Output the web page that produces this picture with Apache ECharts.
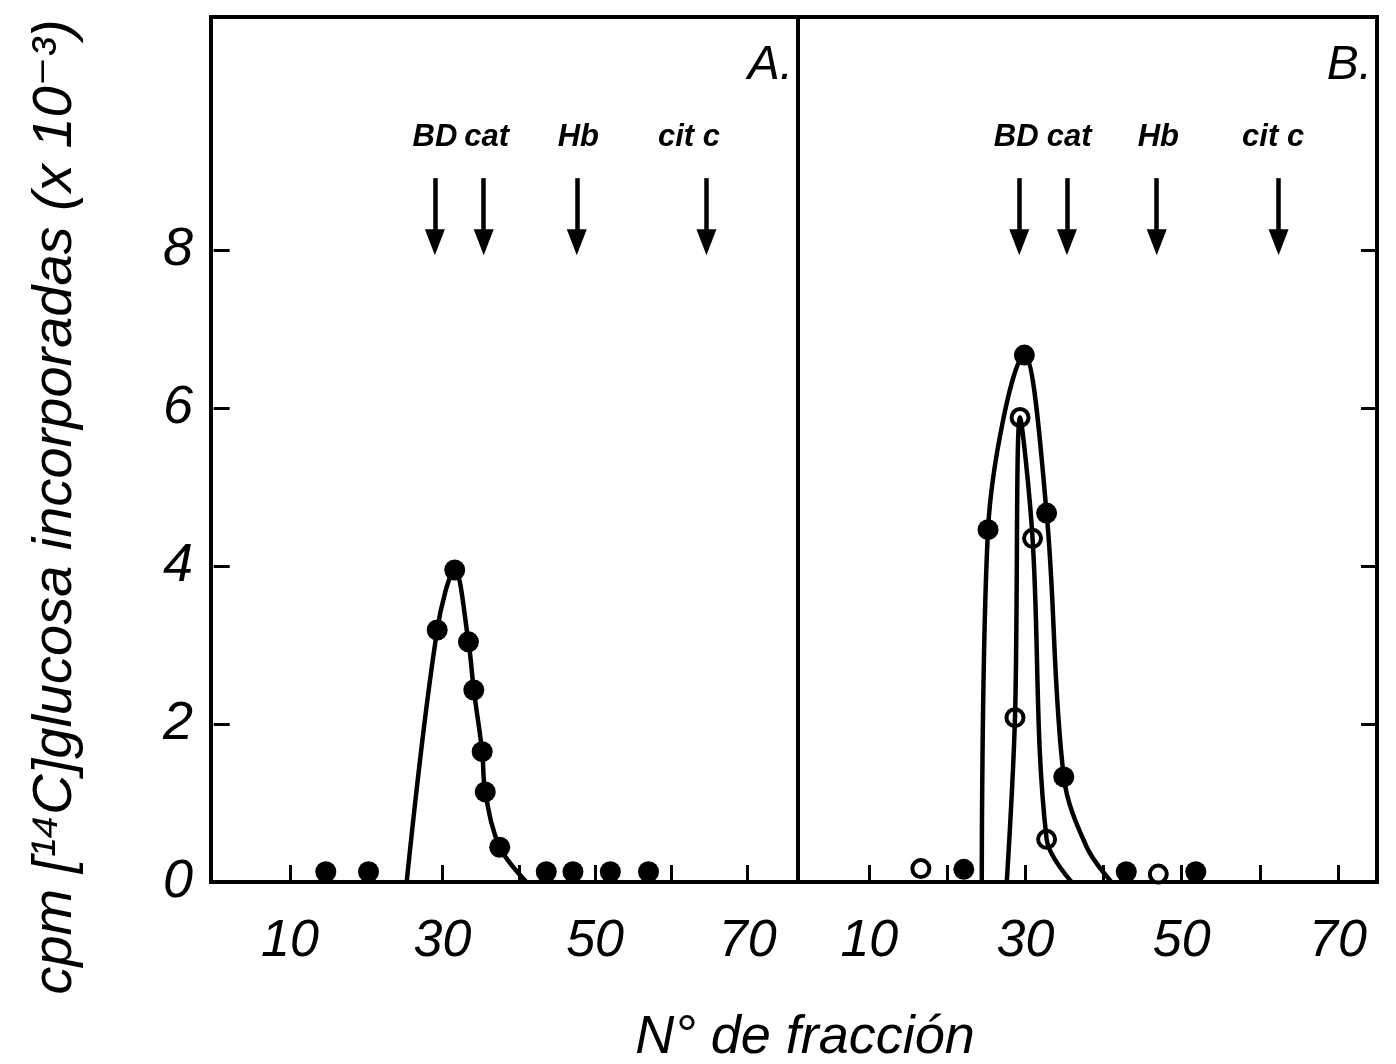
<!DOCTYPE html>
<html>
<head>
<meta charset="utf-8">
<script src="https://cdn.jsdelivr.net/npm/echarts@6/dist/echarts.min.js"></script>
<style>
  html, body { margin: 0; padding: 0; background: #fff; }
  #chart { width: 1396px; height: 1064px; }
</style>
</head>
<body>
<div id="chart"></div>
<script>
// ---- data ----
const xTickVals = [10, 20, 30, 40, 50, 60, 70];
const xLabelVals = [10, 30, 50, 70];
const yTickVals = [2, 4, 6, 8];
const yLabelVals = [0, 2, 4, 6, 8];

// panel A, filled points (fraction, cpm x 10^-3)
const aFracc = [14.7, 20.3, 29.3, 31.6, 33.4, 34.1, 35.2, 35.6, 37.5, 43.6, 47.1, 52.0, 57.0];
const aCpm = [0.13, 0.13, 3.19, 3.95, 3.04, 2.43, 1.65, 1.14, 0.44, 0.13, 0.13, 0.13, 0.13];
// panel A, drawn curve
const aCurveX = [25.3, 29.3, 31.6, 33.4, 34.1, 35.2, 35.6, 37.5, 41.0];
const aCurveY = [0, 3.19, 3.95, 3.04, 2.43, 1.65, 1.14, 0.44, 0];

// panel B, filled points
const bFracc = [22.1, 25.2, 29.85, 32.7, 34.9, 42.9, 51.8];
const bCpm = [0.16, 4.46, 6.67, 4.67, 1.33, 0.13, 0.13];
const bCurveX = [24.4, 25.2, 29.85, 32.7, 34.9, 37.8, 41.0];
const bCurveY = [0, 4.46, 6.67, 4.67, 1.33, 0.45, 0];

// panel B, open points
const bOpenFracc = [16.6, 28.65, 29.3, 30.9, 32.7, 47.0];
const bOpenCpm = [0.17, 2.08, 5.88, 4.35, 0.54, 0.10];
const bOpenCurveX = [27.6, 28.65, 29.3, 30.9, 32.7, 35.9];
const bOpenCurveY = [0, 2.08, 5.88, 4.35, 0.54, 0];

// marker proteins (arrows)
const markerNames = ['BD', 'cat', 'Hb', 'cit c'];
const arrowXA = [29.0, 35.4, 47.6, 64.6];
const labelXA = [29.0, 35.8, 47.8, 62.3];
const arrowXB = [29.2, 35.3, 46.8, 62.4];
const labelXB = [28.8, 35.6, 47.0, 61.7];
const arrowTop = 8.91;
const arrowEnd = 8.10;
const labelY = 9.42;

const zip = (xs, ys) => xs.map((x, i) => [x, ys[i]]);

const digitFont = "'Liberation Sans Narrow', 'Liberation Sans', sans-serif";
const textFont = "'Liberation Sans', 'DejaVu Sans', sans-serif";

const chart = echarts.init(document.getElementById('chart'));

function xAxisFor(gridIndex, min, max) {
  return {
    type: 'value', gridIndex: gridIndex, min: min, max: max,
    splitLine: { show: false },
    axisLine: { show: false },
    axisTick: { show: true, inside: true, length: 17, customValues: xTickVals,
      lineStyle: { color: '#000', width: 3 } },
    axisLabel: { show: true, customValues: xLabelVals, margin: 34, color: '#000',
      fontFamily: digitFont, fontStyle: 'italic', fontSize: 52 }
  };
}

function yAxisFor(gridIndex, position, showLabels) {
  return {
    type: 'value', gridIndex: gridIndex, min: 0, max: 10.95, position: position,
    splitLine: { show: false },
    axisLine: { show: false },
    axisTick: { show: true, inside: true, length: 16, customValues: yTickVals,
      lineStyle: { color: '#000', width: 3 } },
    axisLabel: { show: showLabels, customValues: yLabelVals, margin: 18, color: '#000',
      fontFamily: digitFont, fontStyle: 'italic', fontSize: 54 }
  };
}

function arrowLines(xs) {
  return {
    silent: true,
    symbol: ['none', 'triangle'],
    symbolSize: [20, 26],
    label: { show: false },
    lineStyle: { color: '#000', width: 4.5, type: 'solid', opacity: 1 },
    itemStyle: { color: '#000', opacity: 1 },
    emphasis: { disabled: true },
    data: xs.map(x => [{ coord: [x, arrowTop] }, { coord: [x, arrowEnd] }])
  };
}

function labelSeries(xi, yi, xs) {
  return {
    type: 'scatter', xAxisIndex: xi, yAxisIndex: yi,
    data: xs.map((x, i) => [x, labelY, markerNames[i]]),
    symbolSize: 1,
    itemStyle: { color: 'transparent', opacity: 1 },
    silent: true,
    label: {
      show: true, position: 'inside', color: '#000', opacity: 1,
      formatter: p => p.data[2],
      fontFamily: textFont, fontStyle: 'italic', fontWeight: 'bold', fontSize: 31
    }
  };
}

const curveStyle = { color: '#000', width: 4.5, opacity: 1 };
const filledDot = { color: '#000', opacity: 1 };
const openDot = { color: '#fff', borderColor: '#000', borderWidth: 4, opacity: 1 };

const option = {
  backgroundColor: '#fff',
  animation: false,
  grid: [
    { left: 211, top: 17, width: 587, height: 865, show: true,
      borderColor: '#000', borderWidth: 4, backgroundColor: 'transparent' },
    { left: 798, top: 17, width: 579, height: 865, show: true,
      borderColor: '#000', borderWidth: 4, backgroundColor: 'transparent' }
  ],
  xAxis: [xAxisFor(0, -0.35, 76.6), xAxisFor(1, 0.87, 75.0)],
  yAxis: [yAxisFor(0, 'left', true), yAxisFor(1, 'right', false)],
  series: [
    { type: 'line', xAxisIndex: 0, yAxisIndex: 0, data: zip(aCurveX, aCurveY),
      smooth: 0.35, showSymbol: false, lineStyle: curveStyle, silent: true,
      markLine: arrowLines(arrowXA) },
    { type: 'scatter', xAxisIndex: 0, yAxisIndex: 0, data: zip(aFracc, aCpm),
      symbol: 'circle', symbolSize: 21, itemStyle: filledDot },
    labelSeries(0, 0, labelXA),

    { type: 'line', xAxisIndex: 1, yAxisIndex: 1, data: zip(bCurveX, bCurveY),
      smooth: 0.35, showSymbol: false, lineStyle: curveStyle, silent: true,
      markLine: arrowLines(arrowXB) },
    { type: 'line', xAxisIndex: 1, yAxisIndex: 1, data: zip(bOpenCurveX, bOpenCurveY),
      smooth: 0.35, showSymbol: false, lineStyle: curveStyle, silent: true },
    { type: 'scatter', xAxisIndex: 1, yAxisIndex: 1, data: zip(bFracc, bCpm),
      symbol: 'circle', symbolSize: 21, itemStyle: filledDot },
    { type: 'scatter', xAxisIndex: 1, yAxisIndex: 1, data: zip(bOpenFracc, bOpenCpm),
      symbol: 'circle', symbolSize: 17, itemStyle: openDot },
    labelSeries(1, 1, labelXB)
  ],
  graphic: [
    { type: 'text', x: 793, y: 66,
      style: { text: 'A.', font: "italic 48px " + textFont, fill: '#000',
        textAlign: 'right', textVerticalAlign: 'middle', align: 'right', verticalAlign: 'middle' } },
    { type: 'text', x: 1372, y: 66,
      style: { text: 'B.', font: "italic 48px " + textFont, fill: '#000',
        textAlign: 'right', textVerticalAlign: 'middle', align: 'right', verticalAlign: 'middle' } },
    { type: 'text', x: 55, y: 507, rotation: Math.PI / 2,
      style: { text: 'cpm [¹⁴C]glucosa incorporadas (x 10⁻³)', font: "italic 56px " + textFont,
        fill: '#000', textAlign: 'center', textVerticalAlign: 'middle',
        align: 'center', verticalAlign: 'middle' } },
    { type: 'text', x: 805, y: 1038,
      style: { text: 'N° de fracción', font: "italic 54px " + textFont,
        fill: '#000', textAlign: 'center', textVerticalAlign: 'middle',
        align: 'center', verticalAlign: 'middle' } }
  ]
};

chart.setOption(option);
</script>
</body>
</html>
